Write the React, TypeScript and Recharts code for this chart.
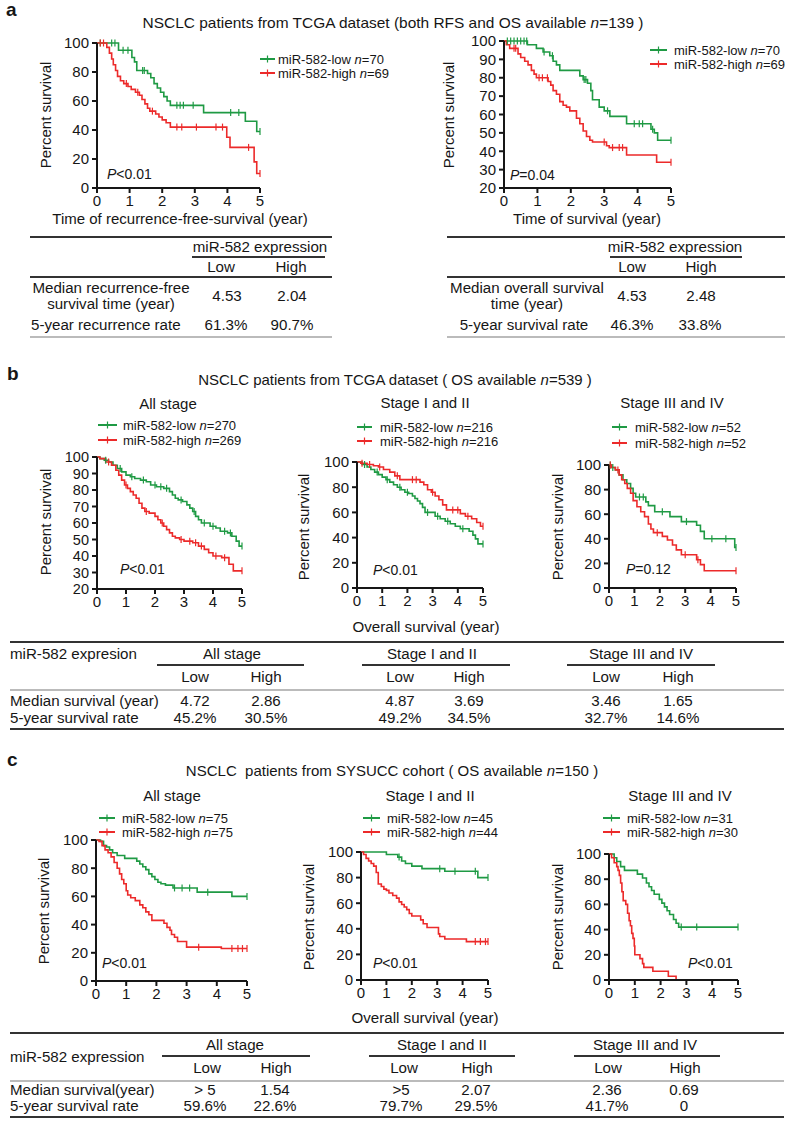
import React from 'react';
import { LineChart, Line, XAxis, YAxis } from 'recharts';

const GREEN = '#1f9a44';
const RED = '#ec2a2a';
const INK = '#161616';
const FONT = '"Liberation Sans", Arial, Helvetica, sans-serif';

const YEARS = [0, 1, 2, 3, 4, 5];
const TICKS_BY20 = [0, 20, 40, 60, 80, 100];
const TICKS_BY10 = [20, 30, 40, 50, 60, 70, 80, 90, 100];

// [year, percent survival] steps; censor marks separately
const aRfsLow = [[0, 100], [0.66, 95], [1.07, 90], [1.15, 87], [1.22, 81], [1.55, 79], [1.65, 76], [1.75, 72], [1.85, 69], [1.95, 66], [2.05, 63], [2.15, 60], [2.25, 57], [3.27, 52], [4.55, 46], [4.9, 39]];
const aRfsLowCens = [0.1, 0.45, 0.55, 0.8, 0.95, 1.4, 1.45, 2.45, 2.55, 2.65, 2.95, 4.1, 4.35, 5];
const aRfsHigh = [[0, 100], [0.3, 97], [0.38, 93], [0.45, 89], [0.5, 85], [0.57, 81], [0.63, 77], [0.72, 74], [0.82, 72], [0.95, 70], [1.05, 68], [1.18, 66], [1.3, 64], [1.38, 61], [1.47, 58], [1.55, 55], [1.62, 53], [1.8, 51], [1.9, 49], [2.0, 47], [2.12, 45], [2.25, 42], [3.98, 35], [4.08, 28], [4.82, 18], [4.9, 10]];
const aRfsHighCens = [0.1, 0.2, 0.9, 1.25, 1.7, 2.45, 2.6, 3.05, 3.65, 3.85, 4.65, 5];

const aOsLow = [[0, 100], [0.7, 98], [0.97, 96], [1.17, 94], [1.37, 92], [1.47, 89], [1.57, 87], [1.67, 84], [2.27, 81], [2.37, 79], [2.5, 77], [2.6, 73], [2.65, 68], [2.85, 64], [3.0, 62], [3.17, 59], [3.67, 55], [4.4, 52], [4.5, 50], [4.6, 46]];
const aOsLowCens = [0.1, 0.2, 0.3, 0.4, 0.5, 0.6, 0.68, 1.2, 1.45, 2.4, 2.45, 3.1, 3.9, 4.05, 4.15, 4.45, 5];
const aOsHigh = [[0, 100], [0.07, 98], [0.17, 96], [0.42, 93], [0.5, 91], [0.62, 89], [0.72, 87], [0.82, 84], [0.9, 82], [0.97, 80], [1.32, 78], [1.4, 76], [1.47, 73], [1.57, 71], [1.67, 67], [1.77, 65], [1.87, 64], [1.97, 62], [2.17, 58], [2.27, 55], [2.37, 51], [2.47, 48], [2.57, 46], [2.65, 45], [3.07, 43], [3.15, 42], [3.67, 38], [4.57, 34]];
const aOsHighCens = [0.3, 0.35, 1.05, 1.15, 1.3, 3.0, 3.25, 3.45, 3.55, 5];

const bAllLow = [[0, 100], [0.1, 99], [0.25, 98], [0.4, 97], [0.55, 95], [0.7, 93], [0.85, 91], [1.0, 89], [1.15, 88], [1.3, 87], [1.5, 86], [1.7, 85], [1.85, 83], [2.05, 82], [2.3, 81], [2.5, 79], [2.6, 77], [2.7, 75], [2.8, 74], [2.95, 73], [3.1, 71], [3.2, 69], [3.3, 67], [3.4, 64], [3.5, 62], [3.6, 60], [3.9, 58], [4.1, 57], [4.25, 55], [4.5, 54], [4.65, 52], [4.8, 49], [4.9, 46]];
const bAllLowCens = [0.3, 0.8, 1.2, 1.6, 2.0, 2.2, 2.4, 2.9, 3.35, 3.7, 4.0, 4.4, 4.6, 5];
const bAllHigh = [[0, 100], [0.1, 99], [0.3, 97], [0.5, 95], [0.65, 92], [0.75, 89], [0.85, 86], [0.95, 83], [1.05, 81], [1.15, 79], [1.25, 77], [1.35, 75], [1.45, 72], [1.55, 69], [1.65, 67], [1.8, 66], [2.0, 64], [2.1, 62], [2.2, 60], [2.3, 58], [2.4, 56], [2.5, 54], [2.6, 52], [2.7, 51], [2.85, 50], [3.0, 49], [3.3, 48], [3.5, 46], [3.7, 44], [3.85, 42], [4.0, 40], [4.3, 39], [4.55, 35], [4.7, 31]];
const bAllHighCens = [0.4, 1.0, 1.7, 2.25, 2.9, 3.2, 3.4, 3.6, 4.1, 4.4, 5];

const bEarlyLow = [[0, 100], [0.2, 98], [0.4, 96], [0.55, 94], [0.7, 92], [0.85, 90], [1.0, 88], [1.15, 86], [1.3, 84], [1.45, 82], [1.6, 80], [1.75, 78], [1.9, 76], [2.05, 75], [2.2, 73], [2.3, 71], [2.4, 69], [2.5, 67], [2.6, 64], [2.7, 60], [3.1, 57], [3.3, 55], [3.5, 53], [3.7, 51], [3.9, 49], [4.1, 47], [4.45, 45], [4.6, 42], [4.7, 39], [4.8, 35]];
const bEarlyLowCens = [0.3, 0.8, 1.2, 1.7, 2.0, 2.8, 3.2, 3.6, 4.2, 5];
const bEarlyHigh = [[0, 100], [0.15, 99], [0.4, 98], [0.65, 97], [0.85, 96], [1.05, 94], [1.3, 92], [1.5, 89], [1.7, 86], [2.5, 84], [2.65, 82], [2.8, 78], [2.95, 76], [3.1, 73], [3.25, 70], [3.4, 66], [3.55, 62], [4.1, 59], [4.3, 57], [4.55, 55], [4.75, 52], [4.9, 49]];
const bEarlyHighCens = [0.2, 0.5, 0.9, 1.6, 2.2, 2.35, 3.0, 3.8, 4.0, 4.4, 5];

const bLateLow = [[0, 100], [0.1, 98], [0.25, 96], [0.4, 92], [0.55, 88], [0.7, 85], [0.85, 81], [0.95, 77], [1.05, 74], [1.45, 70], [1.55, 67], [1.8, 62], [2.4, 58], [2.85, 54], [3.45, 51], [3.6, 46], [3.75, 40], [4.95, 33]];
const bLateLowCens = [0.05, 0.15, 1.2, 1.35, 2.1, 3.05, 4.05, 4.6, 5];
const bLateHigh = [[0, 100], [0.1, 98], [0.25, 96], [0.4, 92], [0.5, 88], [0.62, 85], [0.72, 81], [0.85, 77], [0.95, 71], [1.1, 66], [1.25, 62], [1.4, 58], [1.55, 52], [1.65, 48], [1.75, 45], [2.1, 42], [2.3, 39], [2.5, 35], [2.65, 31], [2.85, 27], [3.45, 23], [3.6, 19], [3.75, 14]];
const bLateHighCens = [0.05, 0.35, 1.9, 3.0, 3.5, 5];

const cAllLow = [[0, 100], [0.15, 99], [0.25, 96], [0.35, 95], [0.45, 93], [0.55, 91], [0.7, 89], [0.95, 87], [1.35, 85], [1.45, 83], [1.55, 81], [1.65, 79], [1.75, 76], [1.85, 74], [1.95, 72], [2.05, 70], [2.15, 69], [2.3, 68], [2.55, 66], [3.35, 63], [4.5, 60]];
const cAllLowCens = [2.6, 2.85, 3.1, 3.7, 5];
const cAllHigh = [[0, 100], [0.1, 99], [0.2, 96], [0.3, 93], [0.4, 91], [0.5, 88], [0.6, 84], [0.7, 80], [0.78, 76], [0.85, 72], [0.92, 69], [1.0, 64], [1.05, 61], [1.15, 59], [1.3, 57], [1.45, 54], [1.55, 52], [1.65, 49], [1.75, 47], [1.85, 43], [2.25, 41], [2.35, 38], [2.45, 36], [2.5, 33], [2.6, 31], [2.7, 28], [3.0, 24], [4.15, 23]];
const cAllHighCens = [3.4, 4.5, 4.7, 4.85, 5];

const cEarlyLow = [[0, 100], [1.0, 98], [1.45, 96], [1.6, 93], [1.75, 91], [2.0, 89], [2.4, 87], [3.3, 85], [4.6, 80]];
const cEarlyLowCens = [1.5, 3.1, 3.7, 4.5, 5];
const cEarlyHigh = [[0, 100], [0.1, 98], [0.2, 95], [0.3, 93], [0.4, 91], [0.5, 89], [0.6, 84], [0.68, 75], [0.8, 73], [0.9, 71], [1.0, 70], [1.1, 68], [1.25, 66], [1.4, 64], [1.5, 61], [1.6, 59], [1.7, 57], [1.8, 55], [1.9, 52], [2.0, 50], [2.35, 47], [2.45, 44], [2.6, 41], [3.05, 36], [3.1, 34], [3.3, 32], [4.15, 30]];
const cEarlyHighCens = [4.5, 4.7, 4.9, 5];

const cLateLow = [[0, 100], [0.2, 97], [0.3, 94], [0.45, 90], [0.6, 87], [1.1, 84], [1.3, 81], [1.45, 77], [1.55, 74], [1.65, 71], [1.75, 68], [1.95, 64], [2.05, 61], [2.15, 58], [2.25, 55], [2.35, 52], [2.5, 48], [2.6, 45], [2.7, 42]];
const cLateLowCens = [2.8, 3.4, 5];
const cLateHigh = [[0, 100], [0.1, 97], [0.2, 93], [0.3, 90], [0.35, 87], [0.4, 83], [0.45, 77], [0.5, 70], [0.55, 63], [0.65, 60], [0.72, 53], [0.78, 47], [0.83, 43], [0.88, 37], [0.93, 33], [0.98, 27], [1.0, 20], [1.2, 17], [1.3, 13], [1.35, 10], [1.7, 7], [2.3, 3], [2.6, 0]];
const cLateHighCens: number[] = [];

// table values
const tabALeft = { median: ['4.53', '2.04'], rate: ['61.3%', '90.7%'] };
const tabARight = { median: ['4.53', '2.48'], rate: ['46.3%', '33.8%'] };
const groups = ['All stage', 'Stage I and II', 'Stage III and IV'];
const tabBMedian = ['4.72', '2.86', '4.87', '3.69', '3.46', '1.65'];
const tabBRate = ['45.2%', '30.5%', '49.2%', '34.5%', '32.7%', '14.6%'];
const tabCMedian = ['> 5', '1.54', '>5', '2.07', '2.36', '0.69'];
const tabCRate = ['59.6%', '22.6%', '79.7%', '29.5%', '41.7%', '0'];

type Pt = { t: number; s: number; c: boolean };

function km(steps: number[][], cens: number[]): Pt[] {
  const pts: Pt[] = steps.map(([t, s]) => ({ t, s, c: false }));
  cens.forEach((ct) => {
    let s = steps[0][1];
    steps.forEach(([t, v]) => { if (t <= ct) s = v; });
    pts.push({ t: ct, s, c: true });
  });
  pts.sort((a, b) => a.t - b.t || Number(a.c) - Number(b.c));
  return pts;
}

const censorDot = (color: string) => (p: any) =>
  p.payload && p.payload.c ? (
    <line key={`c${p.index}`} x1={p.cx} x2={p.cx} y1={p.cy - 3.5} y2={p.cy + 3.5} stroke={color} strokeWidth={1.2} />
  ) : (
    <g key={`n${p.index}`} />
  );

const ML = 60, MT = 8, MR = 10, XH = 30;

function KMPlot({ x, y, w, h, yMin, yTicks, low, high, fs = 15 }: any) {
  const axisStyle = { stroke: INK, strokeWidth: 2 };
  const xTick = { fill: INK, fontSize: 15, fontFamily: FONT };
  const yTick = { fill: INK, fontSize: fs, fontFamily: FONT };
  return (
    <div style={{ position: 'absolute', left: x - ML, top: y - MT }}>
      <LineChart width={ML + w + MR} height={MT + h + XH} margin={{ top: MT, right: MR, bottom: 0, left: 0 }}>
        <XAxis type="number" dataKey="t" domain={[0, 5]} ticks={YEARS} interval={0} height={XH}
          axisLine={axisStyle} tickLine={axisStyle} tickSize={5} tickMargin={2} tick={xTick} />
        <YAxis type="number" domain={[yMin, 100]} ticks={yTicks} interval={0} width={ML}
          axisLine={axisStyle} tickLine={axisStyle} tickSize={5} tickMargin={3} tick={yTick} />
        <Line data={low} dataKey="s" type="stepAfter" stroke={GREEN} strokeWidth={1.6}
          dot={censorDot(GREEN)} activeDot={false} isAnimationActive={false} />
        <Line data={high} dataKey="s" type="stepAfter" stroke={RED} strokeWidth={1.6}
          dot={censorDot(RED)} activeDot={false} isAnimationActive={false} />
      </LineChart>
    </div>
  );
}

function T({ x, y, a = 'l', s = 14, b = false, k = 1, children, st }: any) {
  const tx = a === 'c' ? '-50%' : a === 'r' ? '-100%' : '0';
  const origin = a === 'c' ? '50% 50%' : a === 'r' ? '100% 50%' : '0 50%';
  return (
    <div style={{ position: 'absolute', left: x, top: y, transform: `translate(${tx}, -50%) scaleX(${k})`,
      transformOrigin: origin, fontSize: s, lineHeight: 1, whiteSpace: 'pre',
      fontWeight: b ? 'bold' : 'normal', ...st }}>
      {children}
    </div>
  );
}

// table cell text: slightly widened like the figure's typeface
const C = (props: any) => <T s={14} k={1.08} {...props} />;

function YLab({ x, y }: any) {
  return (
    <div style={{ position: 'absolute', left: x, top: y, transform: 'translate(-50%, -50%) rotate(-90deg)',
      fontSize: 15, lineHeight: 1, whiteSpace: 'nowrap' }}>Percent survival</div>
  );
}

function HL({ x1, x2, y, t = 2, c = '#333' }: any) {
  return <div style={{ position: 'absolute', left: x1, top: y - t / 2, width: x2 - x1, height: t, background: c }} />;
}

function Legend({ x, len, tx, y1, y2, nLow, nHigh }: any) {
  const rows = [
    { y: y1, color: GREEN, label: 'miR-582-low ', n: nLow },
    { y: y2, color: RED, label: 'miR-582-high ', n: nHigh },
  ];
  return (
    <>
      {rows.map((r, i) => (
        <React.Fragment key={i}>
          <svg style={{ position: 'absolute', left: x, top: r.y - 5 }} width={len} height={10}>
            <line x1={0} x2={len} y1={5} y2={5} stroke={r.color} strokeWidth={2} />
            <line x1={len / 2} x2={len / 2} y1={1.5} y2={8.5} stroke={r.color} strokeWidth={1.2} />
          </svg>
          <T x={tx} y={r.y} s={13}>{r.label}<i>n</i>={r.n}</T>
        </React.Fragment>
      ))}
    </>
  );
}

function P({ x, y, v }: any) {
  return <T x={x} y={y} s={14}><i>P</i>{v}</T>;
}

function GroupTable({ top, sub, lowHigh, mid, median, rate, rows, lines, label, labelY }: any) {
  return (
    <>
      <HL x1={10} x2={784} y={top} />
      <C x={10} y={labelY}>{label}</C>
      {groups.map((g, i) => (
        <C key={g} x={sub[i][2]} y={top + 12} a="c">{g}</C>
      ))}
      {sub.map((sx: number[], i: number) => <HL key={i} x1={sx[0]} x2={sx[1]} y={top + 23} />)}
      {lowHigh.map((cx: number, i: number) => (
        <C key={i} x={cx} y={top + 35} a="c">{i % 2 === 0 ? 'Low' : 'High'}</C>
      ))}
      <HL x1={10} x2={784} y={top + 48} t={1.5} c="#bbb" />
      <C x={10} y={rows[0]}>{lines[0]}</C>
      <C x={10} y={rows[1]}>{lines[1]}</C>
      {median.map((v: string, i: number) => <C key={'m' + i} x={mid[i]} y={rows[0]} a="c">{v}</C>)}
      {rate.map((v: string, i: number) => <C key={'r' + i} x={mid[i]} y={rows[1]} a="c">{v}</C>)}
      <HL x1={10} x2={784} y={rows[1] + 11} />
    </>
  );
}

export default function App() {
  return (
    <div style={{ position: 'absolute', left: 0, top: 0, width: 788, height: 1121, background: '#fff',
      fontFamily: FONT, color: INK, overflow: 'hidden' }}>
      {/* panel a */}
      <T x={6} y={9} s={19} b>a</T>
      <T x={393} y={22} a="c" s={15} k={1.03}>NSCLC patients from TCGA dataset (both RFS and OS available <i>n</i>=139 )</T>

      <KMPlot x={97} y={43} w={163} h={145} yMin={0} yTicks={TICKS_BY20}
        low={km(aRfsLow, aRfsLowCens)} high={km(aRfsHigh, aRfsHighCens)} />
      <YLab x={45} y={115} />
      <P x={107} y={174} v="<0.01" />
      <Legend x={260} len={15} tx={278} y1={59} y2={73} nLow={70} nHigh={69} />
      <T x={180} y={218} a="c" s={15}>Time of recurrence-free-survival (year)</T>

      <KMPlot x={504} y={41} w={167} h={147} yMin={20} yTicks={TICKS_BY10}
        low={km(aOsLow, aOsLowCens)} high={km(aOsHigh, aOsHighCens)} />
      <YLab x={448} y={115} />
      <P x={510} y={175} v="=0.04" />
      <Legend x={650} len={17} tx={674} y1={50} y2={64} nLow={70} nHigh={69} />
      <T x={587} y={218} a="c" s={15}>Time of survival (year)</T>

      {/* table a left */}
      <HL x1={30} x2={332} y={237} />
      <C x={260} y={247} a="c">miR-582 expression</C>
      <HL x1={192} x2={325} y={257} />
      <C x={221} y={267} a="c">Low</C>
      <C x={291} y={267} a="c">High</C>
      <HL x1={30} x2={332} y={277} />
      <C x={111} y={288} a="c">Median recurrence-free</C>
      <C x={111} y={304} a="c">survival time (year)</C>
      <C x={227} y={296} a="c">{tabALeft.median[0]}</C>
      <C x={292} y={296} a="c">{tabALeft.median[1]}</C>
      <C x={31} y={325}>5-year recurrence rate</C>
      <C x={226} y={325} a="c">{tabALeft.rate[0]}</C>
      <C x={292} y={325} a="c">{tabALeft.rate[1]}</C>
      <HL x1={30} x2={332} y={337} t={1.5} c="#bbb" />

      {/* table a right */}
      <HL x1={447} x2={785} y={237} />
      <C x={675} y={247} a="c">miR-582 expression</C>
      <HL x1={610} x2={742} y={257} />
      <C x={632} y={267} a="c">Low</C>
      <C x={701} y={267} a="c">High</C>
      <HL x1={447} x2={785} y={277} />
      <C x={527} y={288} a="c">Median overall survival</C>
      <C x={527} y={304} a="c">time (year)</C>
      <C x={632} y={296} a="c">{tabARight.median[0]}</C>
      <C x={701} y={296} a="c">{tabARight.median[1]}</C>
      <C x={524} y={325} a="c">5-year survival rate</C>
      <C x={632} y={325} a="c">{tabARight.rate[0]}</C>
      <C x={700} y={325} a="c">{tabARight.rate[1]}</C>
      <HL x1={447} x2={785} y={337} t={1.5} c="#bbb" />

      {/* panel b */}
      <T x={7} y={373} s={19} b>b</T>
      <T x={395} y={379} a="c" s={15}>NSCLC patients from TCGA dataset ( OS available <i>n</i>=539 )</T>
      <T x={168} y={403} a="c" s={15}>All stage</T>
      <T x={425} y={402} a="c" s={15}>Stage I and II</T>
      <T x={672} y={402} a="c" s={15}>Stage III and IV</T>
      <Legend x={98} len={19} tx={123} y1={425} y2={440} nLow={270} nHigh={269} />
      <Legend x={357} len={15} tx={380} y1={427} y2={441} nLow={216} nHigh={216} />
      <Legend x={612} len={15} tx={635} y1={427} y2={443} nLow={52} nHigh={52} />

      <KMPlot x={97} y={457} w={145} h={132} yMin={20} yTicks={TICKS_BY10} fs={14.5}
        low={km(bAllLow, bAllLowCens)} high={km(bAllHigh, bAllHighCens)} />
      <KMPlot x={357} y={462} w={126} h={126} yMin={0} yTicks={TICKS_BY20}
        low={km(bEarlyLow, bEarlyLowCens)} high={km(bEarlyHigh, bEarlyHighCens)} />
      <KMPlot x={609} y={465} w={127} h={123} yMin={0} yTicks={TICKS_BY20}
        low={km(bLateLow, bLateLowCens)} high={km(bLateHigh, bLateHighCens)} />
      <YLab x={45} y={522} />
      <YLab x={303} y={527} />
      <YLab x={557} y={527} />
      <P x={120} y={569} v="<0.01" />
      <P x={373} y={570} v="<0.01" />
      <P x={626} y={569} v="=0.12" />
      <C x={426} y={627} a="c">Overall survival (year)</C>

      <GroupTable top={642} label="miR-582 expresion" labelY={654}
        sub={[[157, 304, 232], [362, 510, 432], [567, 715, 641]]}
        lowHigh={[195, 266, 400, 469, 606, 678]} mid={[195, 266, 400, 469, 606, 678]}
        median={tabBMedian} rate={tabBRate} rows={[701, 718]}
        lines={['Median survival (year)', '5-year survival rate']} />

      {/* panel c */}
      <T x={7} y={759} s={19} b>c</T>
      <T x={392} y={770} a="c" s={15}>NSCLC  patients from SYSUCC cohort ( OS available <i>n</i>=150 )</T>
      <T x={172} y={795} a="c" s={15}>All stage</T>
      <T x={430} y={795} a="c" s={15}>Stage I and II</T>
      <T x={680} y={795} a="c" s={15}>Stage III and IV</T>
      <Legend x={99} len={16} tx={122} y1={818} y2={832} nLow={75} nHigh={75} />
      <Legend x={363} len={17} tx={387} y1={818} y2={832} nLow={45} nHigh={44} />
      <Legend x={603} len={17} tx={627} y1={818} y2={832} nLow={31} nHigh={30} />

      <KMPlot x={96} y={840} w={151} h={141} yMin={0} yTicks={TICKS_BY20}
        low={km(cAllLow, cAllLowCens)} high={km(cAllHigh, cAllHighCens)} />
      <KMPlot x={361} y={852} w={127} h={128} yMin={0} yTicks={TICKS_BY20}
        low={km(cEarlyLow, cEarlyLowCens)} high={km(cEarlyHigh, cEarlyHighCens)} />
      <KMPlot x={609} y={854} w={129} h={126} yMin={0} yTicks={TICKS_BY20}
        low={km(cLateLow, cLateLowCens)} high={km(cLateHigh, cLateHighCens)} />
      <YLab x={43} y={911} />
      <YLab x={308} y={917} />
      <YLab x={557} y={917} />
      <P x={102} y={963} v="<0.01" />
      <P x={373} y={963} v="<0.01" />
      <P x={688} y={963} v="<0.01" />
      <C x={425} y={1018} a="c">Overall survival (year)</C>

      <GroupTable top={1033} label="miR-582 expression" labelY={1057}
        sub={[[162, 310, 235], [369, 515, 442], [574, 720, 645]]}
        lowHigh={[207, 276, 404, 477, 608, 685]} mid={[205, 275, 401, 476, 607, 684]}
        median={tabCMedian} rate={tabCRate} rows={[1090, 1106]}
        lines={['Median survival(year)', '5-year survival rate']} />
    </div>
  );
}
